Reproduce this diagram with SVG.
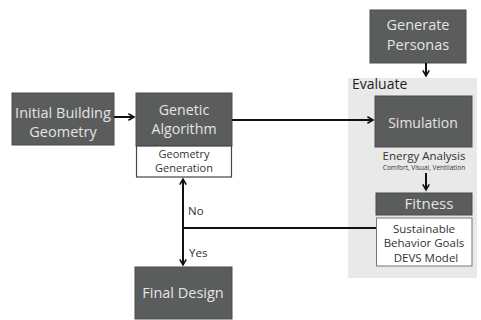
<svg xmlns="http://www.w3.org/2000/svg" width="481" height="320" viewBox="0 0 481 320">
<defs>
<style>
.box{fill:#5b5d5d;stroke:#4a4c4c;stroke-width:1}
.wbox{fill:#fff;stroke:#444;stroke-width:1.2}
.lt{font-family:"Open Sans","Liberation Sans",sans-serif;fill:#e4e4e4;text-anchor:middle}
.dt{font-family:"Open Sans","Liberation Sans",sans-serif;fill:#333;text-anchor:middle}
.ln{stroke:#111;stroke-width:2;fill:none}
</style>
<marker id="ah" viewBox="0 0 10 10" refX="8" refY="5" markerWidth="4" markerHeight="4" orient="auto-start-reverse">
<path d="M1,1 L8,5 L1,9" fill="none" stroke="#111" stroke-width="2"/>
</marker>
</defs>
<rect width="481" height="320" fill="#fff"/>
<g id="evaluate">
<rect x="348" y="78" width="129" height="200" fill="#e9e9e9"/>
<text x="352" y="89" font-family="'Open Sans','Liberation Sans',sans-serif" font-size="14" fill="#222">Evaluate</text>
</g>
<g id="initial">
<rect class="box" x="12" y="93" width="102" height="52"/>
<text class="lt" font-size="14.5" x="63" y="118">Initial Building</text>
<text class="lt" font-size="14.5" x="63" y="137">Geometry</text>
</g>
<g id="genetic">
<rect class="box" x="136" y="93" width="96" height="53"/>
<text class="lt" font-size="14.2" x="184" y="115">Genetic</text>
<text class="lt" font-size="14.2" x="184" y="134">Algorithm</text>
<rect class="wbox" x="136.5" y="146" width="95" height="31"/>
<text class="dt" font-size="11" x="184" y="157.5">Geometry</text>
<text class="dt" font-size="11" x="184" y="171.5">Generation</text>
</g>
<g id="personas">
<rect class="box" x="370" y="10" width="96" height="53"/>
<text class="lt" font-size="14.5" x="418" y="30">Generate</text>
<text class="lt" font-size="14.5" x="418" y="50">Personas</text>
</g>
<g id="simulation">
<rect class="box" x="375" y="96" width="97" height="51"/>
<text class="lt" font-size="14" x="423" y="128">Simulation</text>
<text class="dt" font-size="11.5" x="424" y="160" fill="#222">Energy Analysis</text>
<text class="dt" font-size="6.5" x="424" y="170">Comfort, Visual, Ventilation</text>
</g>
<g id="fitness">
<rect class="box" x="376" y="193" width="96" height="22"/>
<text class="lt" font-size="15" x="429" y="209">Fitness</text>
<rect x="376.5" y="218" width="95.5" height="48" fill="#fff" stroke="#777" stroke-width="1"/>
<text class="dt" font-size="11.5" x="424" y="233">Sustainable</text>
<text class="dt" font-size="11.5" x="424" y="247">Behavior Goals</text>
<text class="dt" font-size="11.5" x="426" y="262">DEVS Model</text>
</g>
<g id="final">
<rect class="box" x="135" y="267" width="97" height="52"/>
<text class="lt" font-size="14.5" x="183" y="298">Final Design</text>
</g>
<g id="connectors">
<line class="ln" x1="114" y1="117" x2="134" y2="117" marker-end="url(#ah)"/>
<line class="ln" x1="232" y1="120" x2="373" y2="120" marker-end="url(#ah)"/>
<line class="ln" x1="426" y1="63" x2="426" y2="76" marker-end="url(#ah)"/>
<line class="ln" x1="426" y1="173" x2="426" y2="190" marker-end="url(#ah)"/>
<line class="ln" x1="183" y1="179" x2="183" y2="265" marker-start="url(#ah)" marker-end="url(#ah)"/>
<line class="ln" x1="183" y1="228" x2="376" y2="228"/>
<text x="188" y="215" font-family="'Open Sans','Liberation Sans',sans-serif" font-size="11.5" fill="#333">No</text>
<text x="189" y="257" font-family="'Open Sans','Liberation Sans',sans-serif" font-size="11.5" fill="#333">Yes</text>
</g>
</svg>
